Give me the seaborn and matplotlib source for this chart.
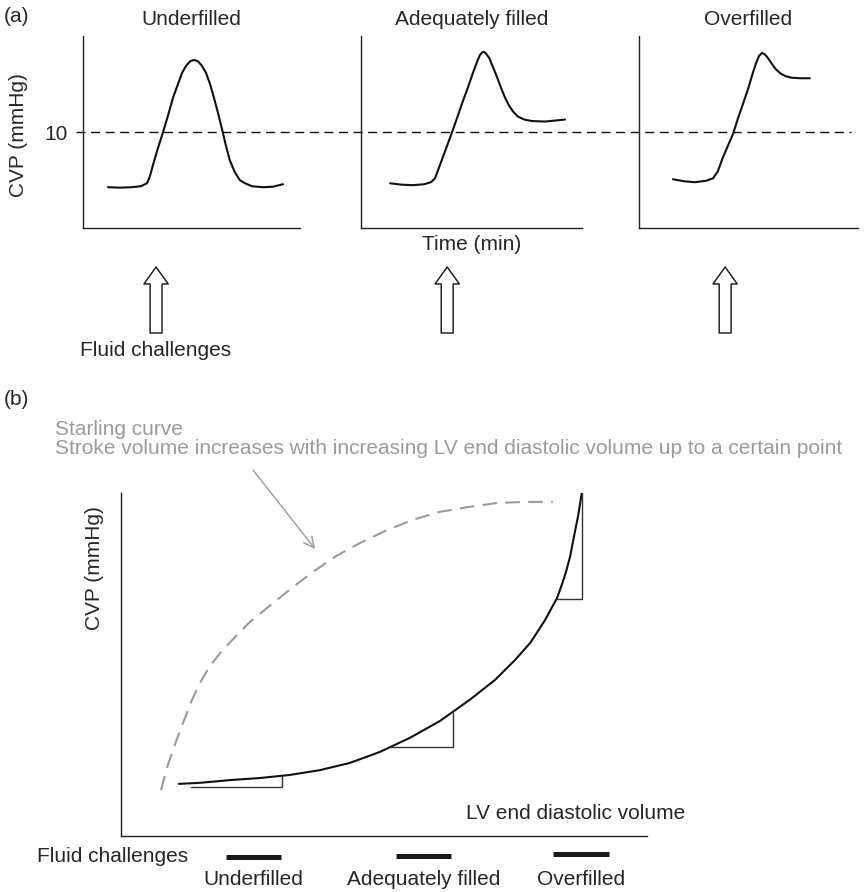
import matplotlib
matplotlib.use("Agg")
import matplotlib.pyplot as plt
import matplotlib.transforms as mtransforms
import seaborn as sns

# ---- data: panel (a), CVP (mmHg) over time (min) ----
panel_titles = ["Underfilled", "Adequately filled", "Overfilled"]

t_under = [6.9, 10.2, 13.5, 16.0, 17.7, 18.5, 19.4, 20.7, 22.1, 23.5, 24.9, 26.3, 27.4, 28.5, 29.6, 30.7,
           31.8, 32.9, 34.0, 35.1, 36.2, 37.3, 38.4, 39.5, 40.6, 42.0, 43.4, 44.8, 46.7, 49.8, 52.5, 55.3]
cvp_under = [4.25, 4.2, 4.25, 4.35, 4.66, 5.39, 6.63, 8.29, 9.95, 11.71, 13.58, 15.03, 16.17, 16.89, 17.36, 17.51,
             17.36, 16.89, 16.17, 15.03, 13.58, 12.02, 10.36, 8.60, 7.05, 5.80, 4.97, 4.66, 4.35, 4.25, 4.30, 4.56]

t_adequate = [7.9, 11.1, 14.1, 17.1, 19.0, 20.1, 21.5, 23.1, 24.7, 26.3, 27.7, 29.1, 30.4, 31.5, 32.3, 32.9,
              33.4, 33.9, 34.8, 35.8, 36.9, 38.0, 39.1, 40.2, 41.3, 42.6, 44.3, 46.4, 50.0, 52.7, 55.4]
cvp_adequate = [4.66, 4.51, 4.46, 4.56, 4.77, 5.18, 6.63, 8.29, 9.95, 11.71, 13.26, 14.72, 16.17, 17.31, 18.03, 18.29,
                18.34, 18.19, 17.72, 16.79, 15.75, 14.61, 13.58, 12.75, 12.12, 11.61, 11.30, 11.14, 11.09, 11.19, 11.30]

t_over = [9.3, 12.3, 15.3, 18.4, 20.3, 21.6, 23.0, 24.4, 25.8, 27.1, 28.5, 29.9, 31.2, 32.1, 32.9, 33.7,
          34.5, 35.3, 36.4, 37.5, 38.9, 40.3, 41.9, 44.1, 46.8]
cvp_over = [5.08, 4.87, 4.77, 4.92, 5.18, 5.91, 7.36, 8.60, 9.84, 11.40, 12.95, 14.51, 16.17, 17.20, 17.93, 18.24,
            18.08, 17.72, 17.10, 16.53, 16.06, 15.80, 15.65, 15.60, 15.60]

challenge_times = [20.2, 23.4, 23.6]
cvp_threshold = 10

# ---- data: panel (b), CVP vs LV end diastolic volume (arbitrary units) ----
lv_volume = [11.0, 15.0, 20.7, 26.4, 32.1, 37.8, 43.5, 49.2, 54.9, 60.6, 66.3, 71.1, 74.9, 77.8, 80.6, 82.9,
             83.8, 84.6, 85.4, 86.1, 86.9, 87.6]
cvp_b = [15.2, 15.5, 16.3, 16.9, 17.8, 19.2, 21.3, 24.5, 28.6, 33.5, 39.7, 45.5, 51.3, 56.3, 62.9, 69.4,
         73.2, 77.0, 81.6, 87.2, 93.3, 100.0]

starling_x = [7.6, 8.9, 10.5, 12.0, 13.5, 15.0, 16.9, 19.0, 21.3, 24.5, 28.9, 32.7, 36.5, 40.9, 45.4, 50.2,
              55.3, 60.6, 66.0, 71.5, 76.8, 82.1]
starling_y = [13.4, 20.7, 27.7, 33.8, 39.7, 44.6, 49.6, 53.6, 57.4, 62.4, 67.9, 72.6, 77.0, 81.6, 85.4, 88.9,
              92.1, 94.5, 95.9, 97.1, 97.4, 97.4]

# slope triangles: (x start, x end, y low, y high)
tri_x0 = [13.3, 51.1, 82.9]
tri_x1 = [30.6, 63.1, 87.6]
tri_y0 = [14.3, 25.9, 69.1]
tri_y1 = [17.5, 35.9, 100.0]

# fluid challenge bars below the axis
bar_labels = ["Underfilled", "Adequately filled", "Overfilled"]
bar_x0 = [20.0, 52.3, 82.1]
bar_x1 = [30.4, 62.7, 92.8]
bar_y = [-6.1, -5.8, -5.2]

sns.set_style("white")
plt.rcParams["font.family"] = ["Liberation Sans", "DejaVu Sans"]
plt.rcParams["font.size"] = 15

W, H = 864, 892
fig = plt.figure(figsize=(W / 100, H / 100), dpi=100)


def rect(l, t, r, b):
    return [l / W, 1 - b / H, (r - l) / W, (b - t) / H]


def fx(x):
    return x / W


def fy(y):
    return 1 - y / H


line_c = "#111111"
axis_c = "#222222"
grey = "#9b9b9b"

# ---------- panel (a) ----------
rects_a = [rect(83, 36, 300, 228), rect(361, 36, 582, 228), rect(639, 36, 858, 228)]
curves_a = [(t_under, cvp_under), (t_adequate, cvp_adequate), (t_over, cvp_over)]
axes_a = []
for i, (r, (t, c)) in enumerate(zip(rects_a, curves_a)):
    ax = fig.add_axes(r)
    ax.set_facecolor("none")
    sns.lineplot(x=t, y=c, ax=ax, color=line_c, lw=1.5)
    ax.set_xlim(0, 60)
    ax.set_ylim(0, 20)
    ax.set_xticks([])
    ax.set_yticks([])
    sns.despine(ax=ax)
    for s in ["left", "bottom"]:
        ax.spines[s].set_color(axis_c)
        ax.spines[s].set_linewidth(1.0)
    ax.set_title(panel_titles[i], fontsize=15, pad=8)
    # fluid challenge arrows
    ax.annotate("", xy=(challenge_times[i], H - 267), xycoords=("data", "figure pixels"),
                xytext=(challenge_times[i], H - 333), textcoords=("data", "figure pixels"),
                arrowprops=dict(arrowstyle="simple,head_length=1.22,head_width=1.75,tail_width=0.86",
                                fc="white", ec=line_c, lw=1.0, shrinkA=0, shrinkB=0,
                                mutation_scale=10),
                annotation_clip=False)
    axes_a.append(ax)

ax1 = axes_a[0]
ax1.set_yticks([cvp_threshold])
ax1.set_yticklabels(["10"])
ax1.tick_params(axis="y", length=0, pad=11, labelsize=15)
axes_a[1].set_xlabel("Time (min)", fontsize=15, labelpad=5)

# threshold line runs across all three panels
blend = mtransforms.blended_transform_factory(fig.transFigure, ax1.transData)
ax1.plot([fx(76), fx(851)], [cvp_threshold, cvp_threshold], transform=blend,
         color=line_c, lw=1.0, linestyle=(0, (6.5, 4)), clip_on=False, zorder=5)

fig.text(fx(4), fy(17), "(a)", ha="left", va="center", fontsize=15)
fig.text(fx(19), fy(135), "CVP (mmHg)", rotation=90, ha="center", va="center", fontsize=15)
fig.text(fx(156), fy(350), "Fluid challenges", ha="center", va="center", fontsize=15)

# ---------- panel (b) ----------
axb = fig.add_axes(rect(121, 493, 647, 836))
axb.set_facecolor("none")
sns.lineplot(x=starling_x, y=starling_y, ax=axb, color=grey, lw=1.5, linestyle=(0, (7, 4)))
sns.lineplot(x=lv_volume, y=cvp_b, ax=axb, color=line_c, lw=1.5)
for x0, x1, y0, y1 in zip(tri_x0, tri_x1, tri_y0, tri_y1):
    axb.plot([x0, x1, x1], [y0, y0, y1], color="#333333", lw=1.0)
axb.set_xlim(0, 100)
axb.set_ylim(0, 100)
axb.set_xticks([])
axb.set_yticks([])
sns.despine(ax=axb)
for s in ["left", "bottom"]:
    axb.spines[s].set_color(axis_c)
    axb.spines[s].set_linewidth(1.0)

axb.text(65.6, 6.7, "LV end diastolic volume", ha="left", va="center", fontsize=15)

for x0, x1, y, lab in zip(bar_x0, bar_x1, bar_y, bar_labels):
    axb.plot([x0, x1], [y, y], color="#1a1a1a", lw=3.6, solid_capstyle="butt", clip_on=False)
    axb.text((x0 + x1) / 2, -12.6, lab, ha="center", va="center", fontsize=15, clip_on=False)
axb.text(12.7, -6.1, "Fluid challenges", ha="right", va="center", fontsize=15, clip_on=False)

axb.annotate("", xy=(36.9, 83.7), xycoords="data",
             xytext=(253, H - 470), textcoords="figure pixels",
             arrowprops=dict(arrowstyle="->,head_length=0.5,head_width=0.25", color=grey,
                             lw=1.0, shrinkA=0, shrinkB=0, mutation_scale=15))

fig.text(fx(4), fy(400), "(b)", ha="left", va="center", fontsize=15)
fig.text(fx(55), fy(430), "Starling curve", ha="left", va="center", fontsize=15, color=grey)
fig.text(fx(55), fy(449), "Stroke volume increases with increasing LV end diastolic volume up to a certain point",
         ha="left", va="center", fontsize=15, color=grey)
fig.text(fx(94), fy(568), "CVP (mmHg)", rotation=90, ha="center", va="center", fontsize=15)

fig.savefig("out.png", dpi=100)
